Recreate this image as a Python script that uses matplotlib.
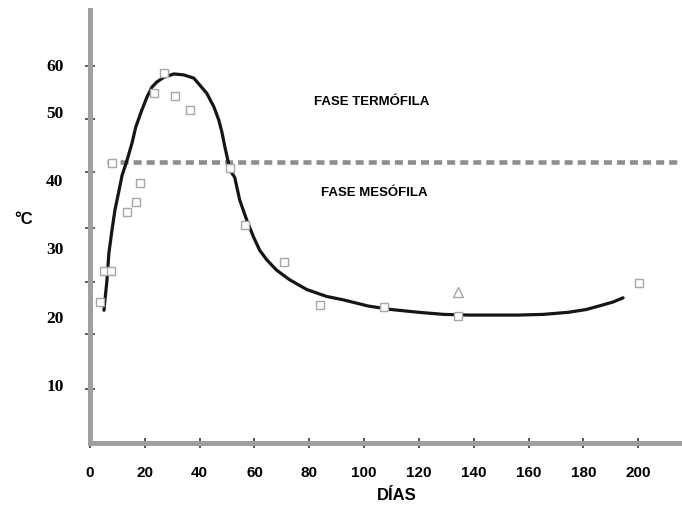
import numpy as np
import matplotlib
matplotlib.use("Agg")
import matplotlib.pyplot as plt
from matplotlib.ticker import FixedLocator

# ---- data ----
curve_days = [5.1, 6.2, 6.9, 8.0, 9.1, 10.6, 11.7, 13.5, 15.3, 16.7, 18.9, 20.8, 22.6,
              24.4, 27.0, 30.6, 34.2, 37.9, 40.1, 42.6, 45.2, 47.0, 48.1, 49.2, 50.3,
              51.0, 52.8, 54.6, 57.2, 59.7, 61.9, 64.5, 68.1, 72.9, 79.1, 86.3, 92.5,
              101.6, 110.0, 119.9, 129.0, 138.1, 147.0, 156.3, 165.4, 174.5, 181.0,
              186.5, 190.9, 194.5]
curve_temp = [21.0, 25.4, 29.3, 32.6, 35.6, 38.5, 40.7, 42.9, 45.4, 47.8, 50.4, 53.2, 55.3,
              56.4, 57.4, 58.1, 57.9, 57.2, 55.7, 54.0, 51.1, 48.8, 47.1, 44.9, 42.9,
              41.5, 40.4, 37.1, 34.1, 31.6, 29.7, 28.3, 26.8, 25.4, 24.0, 23.0, 22.5,
              21.6, 21.1, 20.7, 20.4, 20.3, 20.3, 20.3, 20.4, 20.7, 21.1,
              21.7, 22.2, 22.8]

sq_days = [3.6, 5.0, 7.5, 8.0, 13.4, 16.8, 18.2, 23.3, 27.0, 31.0, 36.4, 51.0, 56.5,
           70.7, 83.8, 107.1, 134.4, 200.4]
sq_temp = [22.2, 26.7, 26.7, 42.5, 35.3, 36.8, 39.6, 54.0, 58.3, 53.4, 50.4, 41.8, 33.4,
           28.0, 21.7, 21.4, 20.1, 24.9]
tri_days = [134.4]
tri_temp = [23.6]

threshold = 42.7
x_ticks = [0, 20, 40, 60, 80, 100, 120, 140, 160, 180, 200]
y_ticks = [10, 20, 30, 40, 50, 60]
y_marks = [9.4, 17.5, 25.1, 32.9, 41.2, 49.0, 59.8]

# piecewise axis as printed (label spacing uneven in the original)
scale_vals = [-10, 0, 10, 20, 30, 40, 50, 60, 80]
scale_pos = [-521, -453, -385, -317, -248, -180, -112, -65, 29]

def fwd(v):
    return np.interp(v, scale_vals, scale_pos)

def inv(u):
    return np.interp(u, scale_pos, scale_vals)

fig = plt.figure(figsize=(6.82, 5.05), dpi=100)
ax = fig.add_axes([90 / 682, 62 / 505, 1 - 90 / 682, (443 - 10) / 505])
ax.set_yscale('function', functions=(fwd, inv))
ax.set_xlim(0, 216)
ax.set_ylim(1.5, 71.7)

ax.plot(curve_days, curve_temp, color='#151515', lw=2.3, zorder=3,
        solid_joinstyle='round', solid_capstyle='round')
ax.plot(sq_days, sq_temp, ls='none', marker='s', ms=5.6, mfc='white', mec='#a6a6a6',
        mew=1.0, zorder=4)
ax.plot(tri_days, tri_temp, ls='none', marker='^', ms=6.5, mfc='white', mec='#a6a6a6',
        mew=1.0, zorder=4)

ax.plot([6.2, 216], [threshold, threshold], color='#8e8e8e', lw=3.3,
        dashes=(1.75, 1.1), zorder=2)

tfont = dict(family=['Liberation Sans Narrow', 'Liberation Sans', 'DejaVu Sans'],
             fontweight='bold', fontsize=9.5, ha='center', va='center')
ax.text(102.7, 52.1, 'FASE TERMÓFILA', **tfont)
ax.text(103.6, 38.1, 'FASE MESÓFILA', **tfont)

for s in ['top', 'right']:
    ax.spines[s].set_visible(False)
for s in ['left', 'bottom']:
    ax.spines[s].set_color('#a0a0a0')
    ax.spines[s].set_linewidth(3.6)

ax.set_xticks(x_ticks)
ax.set_xticklabels([str(v) for v in x_ticks], fontfamily='Liberation Sans',
                   fontweight='bold', fontsize=11)
ax.tick_params(axis='x', direction='inout', length=7, width=1.2, color='#333333', pad=13)

ax.yaxis.set_major_locator(FixedLocator(y_ticks))
ax.set_yticklabels([str(v) for v in y_ticks], fontfamily='Liberation Serif',
                   fontweight='bold', fontsize=12.5)
ax.yaxis.set_minor_locator(FixedLocator(y_marks))
ax.tick_params(axis='y', which='major', length=0, pad=19)
ax.tick_params(axis='y', which='minor', direction='inout', length=7, width=1.2,
               color='#444444')

fig.text(24 / 682, 1 - 220 / 505, '°C', fontfamily='Liberation Sans', fontweight='bold',
         fontsize=12, ha='center', va='center')
fig.text(397 / 682, 1 - 496 / 505, 'DÍAS', fontfamily='Liberation Sans', fontweight='bold',
         fontsize=12, ha='center', va='center')

fig.savefig('out.png', dpi=100)
